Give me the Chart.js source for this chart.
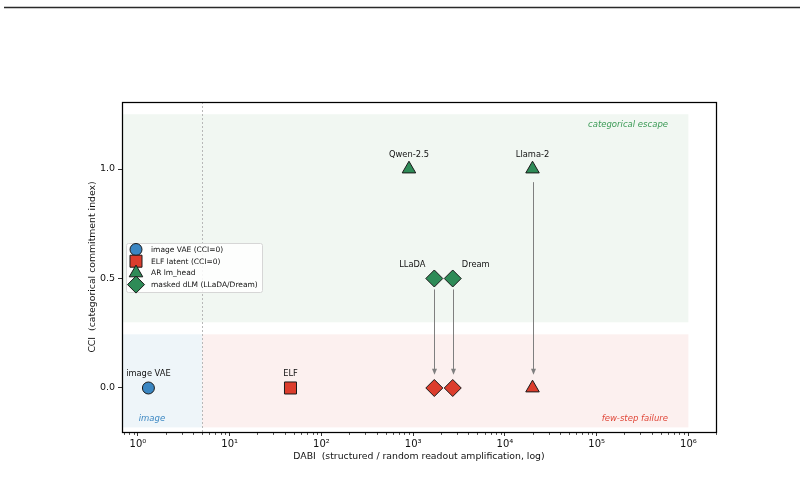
<!DOCTYPE html>
<html>
<head>
<meta charset="utf-8">
<script src="https://cdn.jsdelivr.net/npm/chart.js@4.4.1/dist/chart.umd.min.js"></script>
<style>
  html, body { margin: 0; padding: 0; background: #ffffff; }
  #wrap { width: 804px; height: 497px; position: relative; }
</style>
</head>
<body>
<div id="wrap"><canvas id="c" width="804" height="497"></canvas></div>
<script>
// ---- data ----
const imgVAE_names = ['image VAE'];
const imgVAE_x = [1.3];
const imgVAE_y = [0.0];

const elf_names = ['ELF'];
const elf_x = [46];
const elf_y = [0.0];

const ar_names = ['Qwen-2.5', 'Llama-2'];
const ar_x = [900, 20000];
const ar_y = [1.0, 1.0];

const arFail_x = [20000];
const arFail_y = [0.0];

const dlm_names = ['LLaDA', 'Dream'];
const dlm_x = [1700, 2700];
const dlm_y = [0.5, 0.5];

const dlmFail_x = [1700, 2700];
const dlmFail_y = [0.0, 0.0];

// arrows (x, from y, to y)
const arrow_x = [1700, 2700, 20000];
const arrow_from = [0.45, 0.45, 0.94];
const arrow_to = [0.06, 0.06, 0.06];

const xTicks = [1, 10, 100, 1000, 10000, 100000, 1000000];
const xTickLabels = ['10⁰', '10¹', '10²', '10³', '10⁴', '10⁵', '10⁶'];
const yTicks = [0.0, 0.5, 1.0];
const yTickLabels = ['0.0', '0.5', '1.0'];

const legendLabels = ['image VAE (CCI=0)', 'ELF latent (CCI=0)', 'AR lm_head', 'masked dLM (LLaDA/Dream)'];

// ---- styles ----
const FONT = 'DejaVu Sans';
const GREEN = '#2e8b57';
const RED = '#dc3d2d';
const BLUE = '#3a86c2';
const EDGE = '#1a1a1a';

const pts = (xs, ys) => xs.map((x, i) => ({ x: x, y: ys[i] }));

const datasets = [
  { label: legendLabels[0], data: pts(imgVAE_x, imgVAE_y), pointStyle: 'circle', pointRadius: 6, backgroundColor: BLUE, names: imgVAE_names },
  { label: legendLabels[1], data: pts(elf_x, elf_y), pointStyle: 'rect', pointRadius: 8.5, backgroundColor: RED, names: elf_names },
  { label: legendLabels[2], data: pts(ar_x, ar_y), pointStyle: 'triangle', pointRadius: 7.8, backgroundColor: GREEN, names: ar_names },
  { label: legendLabels[3], data: pts(dlm_x, dlm_y), pointStyle: 'rectRot', pointRadius: 8.5, backgroundColor: GREEN, names: dlm_names, labelOffsets: [[-22, -14], [23, -14]] },
  { label: 'AR fail', data: pts(arFail_x, arFail_y), pointStyle: 'triangle', pointRadius: 7.8, backgroundColor: RED, inLegend: false },
  { label: 'dLM fail', data: pts(dlmFail_x, dlmFail_y), pointStyle: 'rectRot', pointRadius: 8.5, backgroundColor: RED, inLegend: false }
].map(d => Object.assign({ borderColor: EDGE, borderWidth: 1, pointHoverRadius: d.pointRadius, showLine: false }, d));

const decorPlugin = {
  id: 'decor',
  beforeDraw(chart) {
    const ctx = chart.ctx;
    ctx.save();
    ctx.strokeStyle = '#2a2a2a';
    ctx.lineWidth = 1.6;
    ctx.beginPath();
    ctx.moveTo(4, 7.5);
    ctx.lineTo(800, 7.5);
    ctx.stroke();
    ctx.restore();
  },
  beforeDatasetsDraw(chart) {
    const { ctx, chartArea: a, scales: { x, y } } = chart;
    ctx.save();
    const rect = (x0, x1, y0, y1, c) => {
      const px0 = x.getPixelForValue(x0), px1 = x.getPixelForValue(x1);
      const py0 = y.getPixelForValue(y1), py1 = y.getPixelForValue(y0);
      ctx.fillStyle = c;
      ctx.fillRect(px0, py0, px1 - px0, py1 - py0);
    };
    rect(x.min, 1e6, 0.3, 1.25, '#f1f7f2');
    rect(x.min, 5, -0.18, 0.245, '#eef5f9');
    rect(5, 1e6, -0.18, 0.245, '#fcf0ef');
    // dotted threshold line
    const tx = Math.round(x.getPixelForValue(5)) + 0.5;
    ctx.strokeStyle = '#b8b8b8';
    ctx.lineWidth = 1;
    ctx.setLineDash([2, 2]);
    ctx.beginPath();
    ctx.moveTo(tx, a.top);
    ctx.lineTo(tx, a.bottom);
    ctx.stroke();
    ctx.setLineDash([]);
    // region labels
    ctx.font = 'italic 8.5px "' + FONT + '"';
    ctx.textBaseline = 'middle';
    ctx.textAlign = 'right';
    ctx.fillStyle = '#3a9a55';
    ctx.fillText('categorical escape', x.getPixelForValue(6e5), y.getPixelForValue(1.2));
    ctx.fillStyle = '#e0483a';
    ctx.fillText('few-step failure', x.getPixelForValue(6e5), y.getPixelForValue(-0.14));
    ctx.textAlign = 'center';
    ctx.fillStyle = '#3a86c2';
    ctx.fillText('image', x.getPixelForValue(1.42), y.getPixelForValue(-0.14));
    // arrows
    ctx.strokeStyle = '#7f7f7f';
    ctx.fillStyle = '#7f7f7f';
    ctx.lineWidth = 1;
    arrow_x.forEach((xv, i) => {
      const px = Math.round(x.getPixelForValue(xv)) + 0.5;
      const p0 = y.getPixelForValue(arrow_from[i]);
      const p1 = y.getPixelForValue(arrow_to[i]);
      ctx.beginPath();
      ctx.moveTo(px, p0);
      ctx.lineTo(px, p1 - 5);
      ctx.stroke();
      ctx.beginPath();
      ctx.moveTo(px - 2.5, p1 - 6);
      ctx.lineTo(px + 2.5, p1 - 6);
      ctx.lineTo(px, p1);
      ctx.closePath();
      ctx.fill();
    });
    ctx.restore();
  },
  afterDatasetsDraw(chart) {
    const { ctx, chartArea: a, scales: { x, y } } = chart;
    ctx.save();
    // point labels
    ctx.font = '8.3px "' + FONT + '"';
    ctx.fillStyle = '#111';
    ctx.textAlign = 'center';
    ctx.textBaseline = 'middle';
    chart.data.datasets.forEach(ds => {
      if (!ds.names) return;
      ds.data.forEach((p, i) => {
        const off = ds.labelOffsets ? ds.labelOffsets[i] : [0, -14];
        ctx.fillText(ds.names[i], x.getPixelForValue(p.x) + off[0], y.getPixelForValue(p.y) + off[1]);
      });
    });
    // frame
    ctx.strokeStyle = '#000';
    ctx.lineWidth = 1.25;
    const L = Math.floor(a.left) + 0.5, T = Math.floor(a.top) + 0.5;
    const R = Math.floor(a.right) + 0.5, B = Math.floor(a.bottom) + 0.5;
    ctx.strokeRect(L, T, R - L, B - T);
    // minor ticks on log x axis
    ctx.beginPath();
    for (let k = -1; k <= 6; k++) {
      for (let m = 2; m <= 9; m++) {
        const v = m * Math.pow(10, k);
        if (v < x.min || v > x.max) continue;
        const px = Math.round(x.getPixelForValue(v)) + 0.5;
        ctx.moveTo(px, B);
        ctx.lineTo(px, B + 2.4);
      }
    }
    ctx.lineWidth = 0.7;
    ctx.stroke();
    // legend
    const lx = 126, ly = 243, lw = 136, lh = 49;
    ctx.fillStyle = 'rgba(255,255,255,0.85)';
    ctx.strokeStyle = '#d6d6d6';
    ctx.lineWidth = 1;
    ctx.beginPath();
    if (ctx.roundRect) ctx.roundRect(lx + 0.5, ly + 0.5, lw, lh, 2); else ctx.rect(lx + 0.5, ly + 0.5, lw, lh);
    ctx.fill();
    ctx.stroke();
    ctx.font = '7.5px "' + FONT + '"';
    ctx.textAlign = 'left';
    ctx.textBaseline = 'middle';
    let row = 0;
    chart.data.datasets.forEach(ds => {
      if (ds.inLegend === false) return;
      const cy = ly + 6.5 + row * 11.7;
      ctx.fillStyle = ds.backgroundColor;
      ctx.strokeStyle = ds.borderColor;
      ctx.lineWidth = 1;
      Chart.helpers.drawPoint(ctx, { pointStyle: ds.pointStyle, radius: ds.pointRadius, borderWidth: 1, rotation: 0 }, lx + 10, cy);
      ctx.fillStyle = '#111';
      ctx.fillText(ds.label, lx + 25, cy + 0.5);
      row++;
    });
    ctx.restore();
  }
};

new Chart(document.getElementById('c'), {
  type: 'scatter',
  data: { datasets: datasets },
  options: {
    responsive: false,
    animation: false,
    events: [],
    layout: { padding: { left: 83, right: 88, top: 102, bottom: 31 } },
    plugins: { legend: { display: false }, tooltip: { enabled: false } },
    scales: {
      x: {
        type: 'logarithmic',
        min: 0.67,
        max: 2e6,
        afterFit(s) { s.height = 34; },
        afterBuildTicks(s) { s.ticks = xTicks.map(v => ({ value: v })); },
        ticks: {
          autoSkip: false, maxRotation: 0, padding: 2,
          color: '#111', font: { family: FONT, size: 10 },
          callback: (v, i) => xTickLabels[i]
        },
        grid: { display: true, drawOnChartArea: false, drawTicks: true, tickLength: 4, color: '#000', tickWidth: 0.8 },
        border: { display: false },
        title: { display: true, text: 'DABI  (structured / random readout amplification, log)', color: '#111', font: { family: FONT, size: 9.3 }, padding: { top: 2, bottom: 4 } }
      },
      y: {
        type: 'linear',
        min: -0.201,
        max: 1.306,
        afterFit(s) { s.width = 39; },
        afterBuildTicks(s) { s.ticks = yTicks.map(v => ({ value: v })); },
        ticks: {
          autoSkip: false, padding: 3,
          color: '#111', font: { family: FONT, size: 9.5 },
          callback: (v, i) => yTickLabels[i]
        },
        grid: { display: true, drawOnChartArea: false, drawTicks: true, tickLength: 4, color: '#000', tickWidth: 0.8 },
        border: { display: false },
        title: { display: true, text: 'CCI  (categorical commitment index)', color: '#111', font: { family: FONT, size: 9.3 }, padding: { top: 4, bottom: 2 } }
      }
    }
  },
  plugins: [decorPlugin]
});
</script>
</body>
</html>
